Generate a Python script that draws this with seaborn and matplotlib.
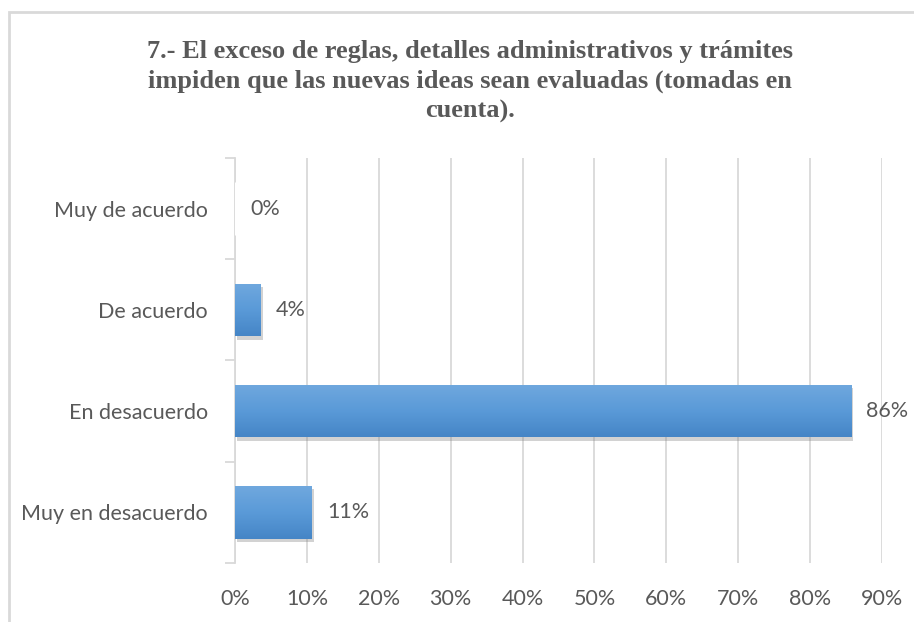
import numpy as np
import pandas as pd
import matplotlib
matplotlib.use("Agg")
import matplotlib.pyplot as plt
import matplotlib.patheffects as pe
from matplotlib.colors import LinearSegmentedColormap
from matplotlib.patches import Rectangle
from matplotlib.ticker import PercentFormatter, FixedLocator
import seaborn as sns

# Survey answers and their shares
categories = ["Muy de acuerdo", "De acuerdo", "En desacuerdo", "Muy en desacuerdo"]
shares = [0.0, 0.0357, 0.8571, 0.1071]
x_ticks = [0.0, 0.1, 0.2, 0.3, 0.4, 0.5, 0.6, 0.7, 0.8, 0.9]

title = ("7.- El exceso de reglas, detalles administrativos y trámites\n"
         "impiden que las nuevas ideas sean evaluadas (tomadas en\n"
         "cuenta).")

df = pd.DataFrame({"respuesta": categories, "porcentaje": shares})

sns.set_theme(style="white")
plt.rcParams["font.family"] = ["Lato", "DejaVu Sans"]

text_gray = "#595959"
grid_gray = "#d9d9d9"
label_size = 15.5

fig = plt.figure(figsize=(9.14, 6.22), dpi=100)
ax = fig.add_axes([0.2571, 0.0949, 0.7079, 0.6511])

sns.barplot(data=df, x="porcentaje", y="respuesta", order=categories,
            color="#5b9bd5", width=0.52, ax=ax, zorder=3)

ax.set_xlim(0, 0.9)
ax.set_ylim(3.5, -0.5)

# vertical gradient fill + soft shadow for each bar
grad = LinearSegmentedColormap.from_list("bar", ["#70a8de", "#5a9ad8", "#4585c6"])
gimg = np.linspace(0, 1, 256).reshape(-1, 1)
for p in list(ax.patches):
    x0, y0 = p.get_x(), p.get_y()
    w, h = p.get_width(), p.get_height()
    if w <= 0:
        continue
    p.set_path_effects([pe.SimplePatchShadow(offset=(1.5, -2.5), shadow_rgbFace="#808080", alpha=0.35),
                        pe.Normal()])
    p.set_edgecolor("none")
    im = ax.imshow(gimg, cmap=grad, aspect="auto",
                   extent=(x0, x0 + w, y0 + h, y0), zorder=4, interpolation="bilinear")
    im.set_clip_path(p)
ax.set_xlim(0, 0.9)
ax.set_ylim(3.5, -0.5)

# value labels
for i, v in enumerate(shares):
    ax.annotate(f"{v * 100:.0f}%", xy=(v, i), xytext=(11, 0), textcoords="offset points",
                va="center", ha="left", fontsize=label_size, color=text_gray, zorder=5)

ax.xaxis.set_major_locator(FixedLocator(x_ticks))
ax.xaxis.set_major_formatter(PercentFormatter(1.0, decimals=0))
ax.grid(axis="x", color=grid_gray, linewidth=1.3, zorder=0)
ax.set_axisbelow(True)

for s in ["top", "right", "bottom"]:
    ax.spines[s].set_visible(False)
ax.spines["left"].set_color(grid_gray)
ax.spines["left"].set_linewidth(1.3)

# category ticks sit on the boundaries between bars
ax.set_yticks(np.arange(len(categories)))
ax.set_yticklabels(categories)
ax.yaxis.set_minor_locator(FixedLocator(np.arange(-0.5, len(categories), 1.0)))
ax.tick_params(axis="y", which="major", length=0, pad=19.5, labelsize=label_size, labelcolor=text_gray)
ax.tick_params(axis="y", which="minor", length=7, width=1.3, color=grid_gray, left=True)
ax.tick_params(axis="x", length=0, pad=19, labelsize=label_size, labelcolor=text_gray)
ax.set_xlabel("")
ax.set_ylabel("")

fig.text(0.514, 0.935, title, ha="center", va="top", fontsize=19, fontweight="bold",
         family=["Liberation Serif", "DejaVu Serif"], color=text_gray, linespacing=1.34)

# chart frame
frame = Rectangle((8.5 / 914, -0.01), 1.0, 1 - 11.5 / 622 + 0.01, transform=fig.transFigure,
                  fill=False, edgecolor=grid_gray, linewidth=2)
fig.add_artist(frame)

fig.savefig("out.png", dpi=100, facecolor="white")
